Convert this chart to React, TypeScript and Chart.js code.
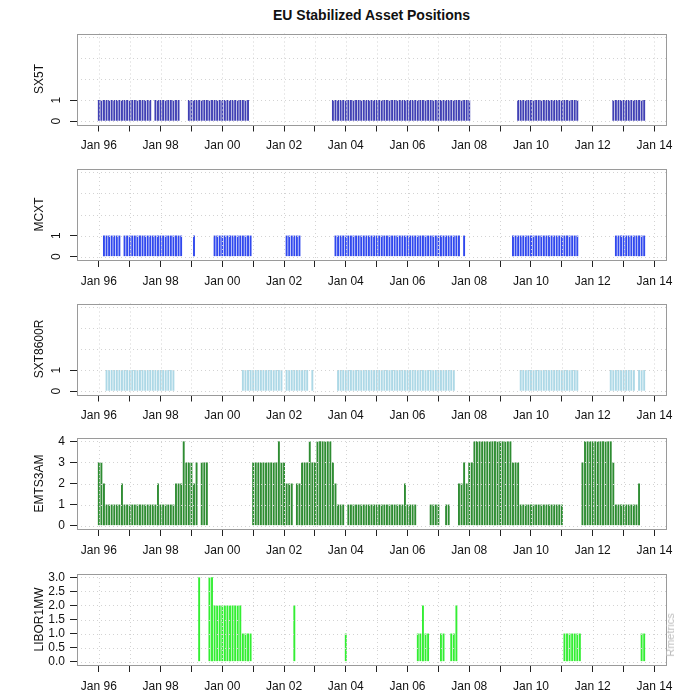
import React, { useEffect, useRef } from "react";
import { Chart, registerables } from "chart.js";

Chart.register(...registerables);

// ---------- data (monthly, Jan 1996 .. Sep 2013) ----------
const START_YEAR = 1996;
const TICK_YEARS = [1996, 1997, 1998, 1999, 2000, 2001, 2002, 2003, 2004, 2005, 2006, 2007, 2008, 2009, 2010, 2011, 2012, 2013, 2014];

const SX5T = [
  1, 1, 1, 1, 1, 1, 1, 1, 1, 1, 1, 1, // 1996
  1, 1, 1, 1, 1, 1, 1, 1, 1, 0, 1, 1, // 1997
  1, 1, 1, 1, 1, 1, 1, 1, 0, 0, 0, 1, // 1998
  1, 1, 1, 1, 1, 1, 1, 1, 1, 1, 1, 1, // 1999
  1, 1, 1, 1, 1, 1, 1, 1, 1, 1, 1, 0, // 2000
  0, 0, 0, 0, 0, 0, 0, 0, 0, 0, 0, 0, // 2001
  0, 0, 0, 0, 0, 0, 0, 0, 0, 0, 0, 0, // 2002
  0, 0, 0, 0, 0, 0, 0, 1, 1, 1, 1, 1, // 2003
  1, 1, 1, 1, 1, 1, 1, 1, 1, 1, 1, 1, // 2004
  1, 1, 1, 1, 1, 1, 1, 1, 1, 1, 1, 1, // 2005
  1, 1, 1, 1, 1, 1, 1, 1, 1, 1, 1, 1, // 2006
  1, 1, 1, 1, 1, 1, 1, 1, 1, 1, 1, 1, // 2007
  1, 0, 0, 0, 0, 0, 0, 0, 0, 0, 0, 0, // 2008
  0, 0, 0, 0, 0, 0, 0, 1, 1, 1, 1, 1, // 2009
  1, 1, 1, 1, 1, 1, 1, 1, 1, 1, 1, 1, // 2010
  1, 1, 1, 1, 1, 1, 1, 0, 0, 0, 0, 0, // 2011
  0, 0, 0, 0, 0, 0, 0, 0, 1, 1, 1, 1, // 2012
  1, 1, 1, 1, 1, 1, 1, 1, 1,          // 2013
];

const MCXT = [
  0, 0, 1, 1, 1, 1, 1, 1, 1, 0, 1, 1, // 1996
  1, 1, 1, 1, 1, 1, 1, 1, 1, 1, 1, 1, // 1997
  1, 1, 1, 1, 1, 1, 1, 1, 1, 0, 0, 0, // 1998
  0, 1, 0, 0, 0, 0, 0, 0, 0, 1, 1, 1, // 1999
  1, 1, 1, 1, 1, 1, 1, 1, 1, 1, 1, 1, // 2000
  0, 0, 0, 0, 0, 0, 0, 0, 0, 0, 0, 0, // 2001
  0, 1, 1, 1, 1, 1, 1, 0, 0, 0, 0, 0, // 2002
  0, 0, 0, 0, 0, 0, 0, 0, 1, 1, 1, 1, // 2003
  1, 1, 1, 1, 1, 1, 1, 1, 1, 1, 1, 1, // 2004
  1, 1, 1, 1, 1, 1, 1, 1, 1, 1, 1, 1, // 2005
  1, 1, 1, 1, 1, 1, 1, 1, 1, 1, 1, 1, // 2006
  1, 1, 1, 1, 1, 1, 1, 1, 1, 0, 1, 0, // 2007
  0, 0, 0, 0, 0, 0, 0, 0, 0, 0, 0, 0, // 2008
  0, 0, 0, 0, 0, 1, 1, 1, 1, 1, 1, 1, // 2009
  1, 1, 1, 1, 1, 1, 1, 1, 1, 1, 1, 1, // 2010
  1, 1, 1, 1, 1, 1, 1, 0, 0, 0, 0, 0, // 2011
  0, 0, 0, 0, 0, 0, 0, 0, 0, 1, 1, 1, // 2012
  1, 1, 1, 1, 1, 1, 1, 1, 1,          // 2013
];

const SXT8600R = [
  0, 0, 0, 1, 1, 1, 1, 1, 1, 1, 1, 1, // 1996
  1, 1, 1, 1, 1, 1, 1, 1, 1, 1, 1, 1, // 1997
  1, 1, 1, 1, 1, 1, 0, 0, 0, 0, 0, 0, // 1998
  0, 0, 0, 0, 0, 0, 0, 0, 0, 0, 0, 0, // 1999
  0, 0, 0, 0, 0, 0, 0, 0, 1, 1, 1, 1, // 2000
  1, 1, 1, 1, 1, 1, 1, 1, 1, 1, 1, 1, // 2001
  0, 1, 1, 1, 1, 1, 1, 1, 1, 1, 0, 1, // 2002
  0, 0, 0, 0, 0, 0, 0, 0, 0, 1, 1, 1, // 2003
  1, 1, 1, 1, 1, 1, 1, 1, 1, 1, 1, 1, // 2004
  1, 1, 1, 1, 1, 1, 1, 1, 1, 1, 1, 1, // 2005
  1, 1, 1, 1, 1, 1, 1, 1, 1, 1, 1, 1, // 2006
  1, 1, 1, 1, 1, 1, 1, 0, 0, 0, 0, 0, // 2007
  0, 0, 0, 0, 0, 0, 0, 0, 0, 0, 0, 0, // 2008
  0, 0, 0, 0, 0, 0, 0, 0, 1, 1, 1, 1, // 2009
  1, 1, 1, 1, 1, 1, 1, 1, 1, 1, 1, 1, // 2010
  1, 1, 1, 1, 1, 1, 1, 0, 0, 0, 0, 0, // 2011
  0, 0, 0, 0, 0, 0, 0, 1, 1, 1, 1, 1, // 2012
  1, 1, 1, 1, 1, 0, 1, 1, 1,          // 2013
];

const EMTS3AM = [
  3, 3, 2, 1, 1, 1, 1, 1, 1, 2, 1, 1, // 1996
  1, 1, 1, 1, 1, 1, 1, 1, 1, 1, 1, 2, // 1997
  1, 1, 1, 1, 1, 1, 2, 2, 2, 4, 3, 3, // 1998
  3, 2, 3, 0, 3, 3, 3, 0, 0, 0, 0, 0, // 1999
  0, 0, 0, 0, 0, 0, 0, 0, 0, 0, 0, 0, // 2000
  3, 3, 3, 3, 3, 3, 3, 3, 3, 3, 4, 3, // 2001
  3, 2, 2, 2, 0, 2, 2, 3, 3, 3, 4, 3, // 2002
  3, 4, 4, 4, 4, 4, 4, 3, 2, 1, 1, 1, // 2003
  0, 1, 1, 1, 1, 1, 1, 1, 1, 1, 1, 1, // 2004
  1, 1, 1, 1, 1, 1, 1, 1, 1, 1, 1, 2, // 2005
  1, 1, 1, 1, 0, 0, 0, 0, 0, 1, 1, 1, // 2006
  1, 0, 0, 1, 1, 0, 0, 0, 2, 2, 3, 2, // 2007
  3, 3, 4, 4, 4, 4, 4, 4, 4, 4, 4, 4, // 2008
  4, 4, 4, 4, 4, 3, 3, 3, 1, 1, 1, 1, // 2009
  1, 1, 1, 1, 1, 1, 1, 1, 1, 1, 1, 1, // 2010
  1, 0, 0, 0, 0, 0, 0, 0, 3, 4, 4, 4, // 2011
  4, 4, 4, 4, 4, 4, 4, 4, 3, 1, 1, 1, // 2012
  1, 1, 1, 1, 1, 1, 2, 0, 0,          // 2013
];

const LIBOR1MW = [
  0, 0, 0, 0, 0, 0, 0, 0, 0, 0, 0, 0, // 1996
  0, 0, 0, 0, 0, 0, 0, 0, 0, 0, 0, 0, // 1997
  0, 0, 0, 0, 0, 0, 0, 0, 0, 0, 0, 0, // 1998
  0, 0, 0, 3, 0, 0, 0, 3, 3, 2, 2, 2, // 1999
  2, 2, 2, 2, 2, 2, 2, 2, 1, 1, 1, 1, // 2000
  0, 0, 0, 0, 0, 0, 0, 0, 0, 0, 0, 0, // 2001
  0, 0, 0, 0, 2, 0, 0, 0, 0, 0, 0, 0, // 2002
  0, 0, 0, 0, 0, 0, 0, 0, 0, 0, 0, 0, // 2003
  1, 0, 0, 0, 0, 0, 0, 0, 0, 0, 0, 0, // 2004
  0, 0, 0, 0, 0, 0, 0, 0, 0, 0, 0, 0, // 2005
  0, 0, 0, 0, 1, 1, 2, 1, 1, 0, 0, 0, // 2006
  0, 1, 1, 0, 0, 1, 1, 2, 0, 0, 0, 0, // 2007
  0, 0, 0, 0, 0, 0, 0, 0, 0, 0, 0, 0, // 2008
  0, 0, 0, 0, 0, 0, 0, 0, 0, 0, 0, 0, // 2009
  0, 0, 0, 0, 0, 0, 0, 0, 0, 0, 0, 0, // 2010
  0, 1, 1, 1, 1, 1, 1, 1, 0, 0, 0, 0, // 2011
  0, 0, 0, 0, 0, 0, 0, 0, 0, 0, 0, 0, // 2012
  0, 0, 0, 0, 0, 0, 0, 1, 1,          // 2013
];

const BINARY_TICKS = [0, 1];
const BINARY_GRID = [0, 1, 2, 3, 4];
const EMTS_TICKS = [0, 1, 2, 3, 4];
const LIBOR_TICKS = [0, 0.5, 1, 1.5, 2, 2.5, 3];

// ---------- layout ----------
const W = 682;
const H = 698;
const BOX_LEFT = 77;
const BOX_RIGHT = 666;
const BOX_H = 91;
const X_AXIS_H = 34;
const FONT = "'Liberation Sans', Arial, Helvetica, sans-serif";

const N = SX5T.length;
const SPAN = (N - 1) / 12;
const X_MIN = START_YEAR - 0.04 * SPAN;
const X_MAX = START_YEAR + SPAN + 0.04 * SPAN;

type Panel = {
  name: string;
  values: number[];
  color: string;
  top: number;
  yMax: number;
  ticks: number[];
  grid: number[];
  rotated: boolean;
  decimals: number;
};

const PANELS: Panel[] = [
  { name: "SX5T", values: SX5T, color: "#4040b4", top: 33.5, yMax: 4, ticks: BINARY_TICKS, grid: BINARY_GRID, rotated: true, decimals: 0 },
  { name: "MCXT", values: MCXT, color: "#3048ee", top: 169, yMax: 4, ticks: BINARY_TICKS, grid: BINARY_GRID, rotated: true, decimals: 0 },
  { name: "SXT8600R", values: SXT8600R, color: "#add8e6", top: 303.5, yMax: 4, ticks: BINARY_TICKS, grid: BINARY_GRID, rotated: true, decimals: 0 },
  { name: "EMTS3AM", values: EMTS3AM, color: "#2e8c32", top: 438, yMax: 4, ticks: EMTS_TICKS, grid: EMTS_TICKS, rotated: false, decimals: 0 },
  { name: "LIBOR1MW", values: LIBOR1MW, color: "#33ee33", top: 574, yMax: 3, ticks: LIBOR_TICKS, grid: LIBOR_TICKS, rotated: false, decimals: 1 },
];

function makePlugin(p: Panel) {
  return {
    id: "rstyle-" + p.name,
    afterDatasetsDraw(chart: any) {
      const { ctx, chartArea } = chart;
      const xs = chart.scales.x;
      const ys = chart.scales.y;
      ctx.save();
      ctx.strokeStyle = "#d3d3d3";
      ctx.lineWidth = 1;
      ctx.setLineDash([1, 3]);
      for (const yr of TICK_YEARS) {
        const px = Math.round(xs.getPixelForValue(yr)) + 0.5;
        if (px < chartArea.left || px > chartArea.right) continue;
        ctx.beginPath();
        ctx.moveTo(px, chartArea.top);
        ctx.lineTo(px, chartArea.bottom);
        ctx.stroke();
      }
      for (const v of p.grid) {
        const py = Math.round(ys.getPixelForValue(v)) + 0.5;
        ctx.beginPath();
        ctx.moveTo(chartArea.left, py);
        ctx.lineTo(chartArea.right, py);
        ctx.stroke();
      }
      ctx.setLineDash([]);
      ctx.strokeStyle = "#9a9a9a";
      ctx.strokeRect(
        Math.round(chartArea.left) + 0.5,
        Math.round(chartArea.top) + 0.5,
        Math.round(chartArea.right - chartArea.left),
        Math.round(chartArea.bottom - chartArea.top)
      );
      ctx.restore();
    },
    afterDraw(chart: any) {
      if (!p.rotated) return;
      const { ctx } = chart;
      const ys = chart.scales.y;
      ctx.save();
      ctx.fillStyle = "#111";
      ctx.font = "12px " + FONT;
      ctx.textAlign = "center";
      ctx.textBaseline = "middle";
      for (const v of p.ticks) {
        const py = ys.getPixelForValue(v);
        ctx.save();
        ctx.translate(BOX_LEFT - 20, py);
        ctx.rotate(-Math.PI / 2);
        ctx.fillText(String(v), 0, 0);
        ctx.restore();
      }
      ctx.restore();
    },
  };
}

function PanelChart({ p }: { p: Panel }) {
  const ref = useRef<HTMLCanvasElement | null>(null);
  useEffect(() => {
    if (!ref.current) return;
    const points = p.values.map((v, i) => ({ x: START_YEAR + i / 12, y: v === 0 ? null : v }));
    const pad = p.yMax * 0.04;
    const chart = new Chart(ref.current, {
      type: "bar",
      data: {
        datasets: [
          {
            data: points as any,
            backgroundColor: p.color,
            borderWidth: 0,
            barThickness: 1.9,
            inflateAmount: 0,
            grouped: false,
          } as any,
        ],
      },
      options: {
        animation: false,
        responsive: false,
        events: [],
        layout: {
          padding: {
            left: 0,
            right: W - BOX_RIGHT,
            top: p.top,
            bottom: H - p.top - BOX_H - X_AXIS_H,
          },
        },
        plugins: {
          legend: { display: false },
          tooltip: { enabled: false },
          title: { display: false },
        },
        scales: {
          x: {
            type: "linear",
            min: X_MIN,
            max: X_MAX,
            offset: false,
            afterBuildTicks: (s: any) => {
              s.ticks = TICK_YEARS.map((v) => ({ value: v }));
            },
            afterFit: (s: any) => {
              s.height = X_AXIS_H;
            },
            grid: {
              offset: false,
              drawOnChartArea: false,
              drawTicks: true,
              tickLength: 7,
              tickColor: "#222",
              tickWidth: 1,
            },
            border: { display: false },
            ticks: {
              autoSkip: false,
              maxRotation: 0,
              minRotation: 0,
              padding: 7,
              color: "#111",
              font: { family: FONT, size: 12 },
              callback: (v: any) => (Number(v) % 2 === 0 ? "Jan " + String(v).slice(2) : ""),
            },
          },
          y: {
            type: "linear",
            min: -pad,
            max: p.yMax + pad,
            afterBuildTicks: (s: any) => {
              s.ticks = p.ticks.map((v) => ({ value: v }));
            },
            afterFit: (s: any) => {
              s.width = BOX_LEFT;
            },
            grid: {
              drawOnChartArea: false,
              drawTicks: true,
              tickLength: 7,
              tickColor: "#222",
              tickWidth: 1,
            },
            border: { display: false },
            title: {
              display: true,
              text: p.name,
              color: "#111",
              font: { family: FONT, size: 12 },
              padding: { top: 32, bottom: 0 },
            },
            ticks: {
              display: !p.rotated,
              autoSkip: false,
              padding: 5,
              color: "#111",
              font: { family: FONT, size: 12 },
              callback: (v: any) => Number(v).toFixed(p.decimals),
            },
          },
        },
      },
      plugins: [makePlugin(p)],
    } as any);
    return () => chart.destroy();
  }, [p]);
  return (
    <canvas
      ref={ref}
      width={W}
      height={H}
      style={{ position: "absolute", left: 0, top: 0, width: W, height: H }}
    />
  );
}

export default function App() {
  return (
    <div style={{ position: "absolute", left: 0, top: 0, width: W, height: H, background: "#fff", overflow: "hidden" }}>
      <div
        style={{
          position: "absolute",
          left: (BOX_LEFT + BOX_RIGHT) / 2 - 200,
          top: 6,
          width: 400,
          textAlign: "center",
          font: "bold 14px " + FONT,
          color: "#111",
          lineHeight: "18px",
        }}
      >
        EU Stabilized Asset Positions
      </div>
      {PANELS.map((p) => (
        <PanelChart key={p.name} p={p} />
      ))}
      <div
        style={{
          position: "absolute",
          left: 670,
          top: 635,
          transform: "translate(-50%, -50%) rotate(-90deg)",
          font: "11px " + FONT,
          color: "#bdbdbd",
          whiteSpace: "nowrap",
        }}
      >
        Rmetrics
      </div>
    </div>
  );
}
